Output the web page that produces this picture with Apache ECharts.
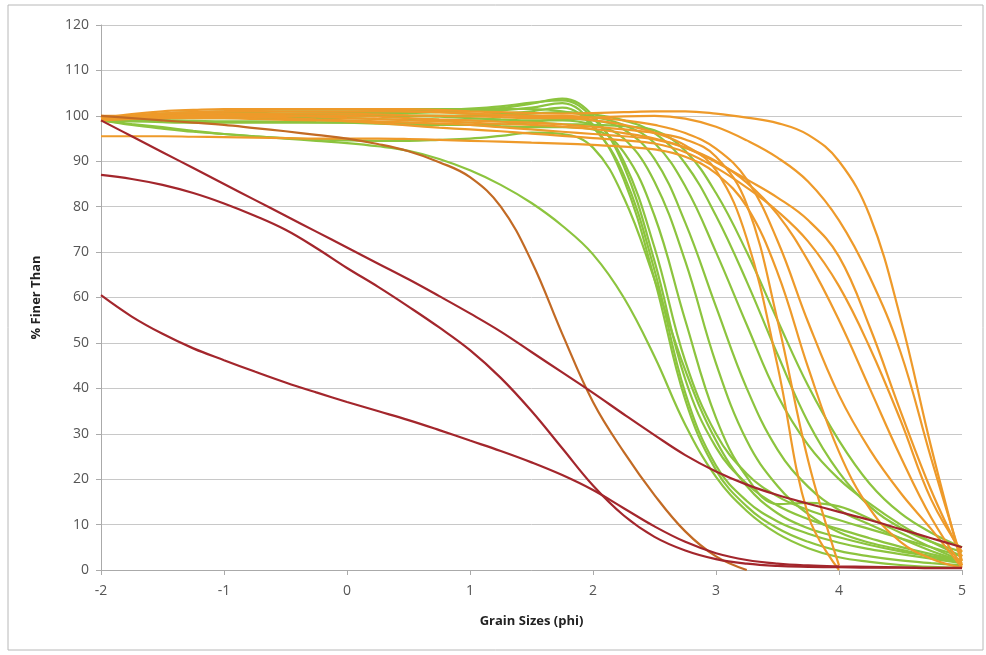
<!DOCTYPE html>
<html>
<head>
<meta charset="utf-8">
<script src="https://cdn.jsdelivr.net/npm/echarts@6/dist/echarts.min.js"></script>
<style>html,body{margin:0;padding:0;background:#fff;}#c{width:986px;height:655px;}</style>
</head>
<body>
<div id="c"></div>
<script>
// x positions (phi), every 0.25
const phi = [-2, -1.75, -1.5, -1.25, -1, -0.75, -0.5, -0.25, 0, 0.25, 0.5, 0.75, 1, 1.25, 1.5, 1.75, 2, 2.25, 2.5, 2.75, 3, 3.25, 3.5, 3.75, 4, 4.25, 4.5, 4.75, 5];

// dark red samples
const red1 = [99, 95.5, 92, 88.5, 85, 81.5, 78, 74.5, 71, 67.5, 64, 60.3, 56.5, 52.5, 48, 43.5, 39, 34.3, 29.7, 25.3, 21.7, 18.8, 16.5, 14.6, 12.8, 11, 9, 7, 5];
const red2 = [87, 86.1, 84.8, 83, 80.7, 78, 74.9, 70.9, 66.5, 62.4, 58, 53.4, 48.4, 42.3, 35, 26.8, 18.6, 12, 7.3, 4.3, 2.4, 1.4, 0.9, 0.7, 0.6, 0.5, 0.5, 0.4, 0.4];
const red3 = [60.5, 55.8, 52, 48.8, 46.2, 43.7, 41.3, 39.1, 37, 35, 33, 30.8, 28.5, 26.2, 23.7, 20.9, 17.6, 13.6, 9.6, 6.2, 3.7, 2.2, 1.4, 1, 0.8, 0.7, 0.6, 0.5, 0.5];
// brown-orange sample
const brown1 = [100, 99.5, 99, 98.5, 98, 97.3, 96.6, 95.8, 95, 93.8, 92.2, 89.8, 86.5, 80, 68, 52, 37, 26, 16.5, 8.5, 3, 0, null, null, null, null, null, null, null];

// green samples
const green1  = [99, 98.2, 97.5, 96.7, 96, 95.5, 95, 94.5, 94, 93.3, 92.3, 90.5, 88, 84.8, 80.8, 75.8, 69.5, 60, 47, 32, 20.5, 13, 8, 4.8, 2.8, 1.8, 1.1, 0.7, 0.5];
const green2  = [99, 98, 97.2, 96.5, 96, 95.5, 95.1, 94.8, 94.6, 94.5, 94.5, 94.7, 95, 95.6, 96.3, 96, 93, 82, 64, 44, 28.5, 18.5, 12.5, 9.2, 7.2, 5.5, 4.1, 3, 2];
const green3  = [99.5, 99.8, 100, 100.1, 100.2, 100.3, 100.4, 100.5, 100.5, 100.5, 100.6, 100.8, 101, 101.2, 101.8, 102.8, 98, 86, 64, 37.5, 22, 14, 9.2, 6.2, 4.2, 3, 2.1, 1.5, 1];
const green4  = [99.5, 99.8, 100.1, 100.4, 100.6, 100.8, 101, 101, 101, 101, 101, 101, 101.2, 101.7, 102.7, 103.8, 100, 89, 68, 42, 27, 19, 14.2, 11.2, 9, 7, 5.1, 3.5, 2];
const green5  = [99.5, 99.8, 100, 100, 100.1, 100.3, 100.5, 100.5, 100.6, 100.8, 101, 101.3, 101.6, 102.1, 102.9, 103.4, 99.5, 90, 71, 46, 30, 21.2, 16.2, 13.2, 11, 9, 7, 5, 3];
const green6  = [99.5, 99.5, 99.5, 99.6, 99.7, 99.8, 100, 100, 100, 100, 100, 100, 100.1, 100.5, 101, 101.8, 97.5, 87, 66, 39, 23, 15.2, 10.7, 8, 6, 4.6, 3.5, 2.5, 1.5];
const green7  = [99, 98.8, 98.6, 98.5, 98.5, 98.5, 98.5, 98.5, 98.5, 98.5, 98.5, 98.2, 98, 97.7, 97.5, 97.5, 97, 92, 78, 55, 33.5, 20.5, 14.5, 14.8, 14, 11.3, 8.2, 5, 2];
const green8  = [99.5, 99.8, 100, 100, 100, 100, 100, 100, 100, 100, 100, 99.8, 99.5, 99.2, 99, 99, 98, 95, 85.5, 68, 45.5, 28.5, 18.5, 12.3, 8.3, 6, 4.5, 3, 1.5];
const green9  = [99, 99, 99, 98.9, 98.8, 98.8, 98.7, 98.6, 98.5, 98.3, 98.1, 98, 98, 98.1, 98.6, 99.3, 99, 97, 90.5, 76.5, 58, 40, 26.5, 18.3, 13.2, 10, 7, 4.2, 2];
const green10 = [99.5, 100, 100.5, 100.8, 101, 101.3, 101.5, 101.5, 101.5, 101.5, 101.5, 101.5, 101.5, 101.5, 101.5, 101, 99.8, 98, 94, 84.5, 70, 54, 38.5, 27.5, 20, 14.6, 10, 6.2, 3];
const green11 = [99.5, 99.8, 100, 100, 100, 100, 100, 100, 100, 100, 100, 100, 100, 100.2, 100.5, 100.8, 100.3, 99, 96.2, 89.5, 78, 63.5, 47.5, 32.5, 21.5, 14, 9.3, 6.2, 4];
const green12 = [99, 99.3, 99.5, 99.5, 99.5, 99.5, 99.5, 99.5, 99.5, 99.3, 99.1, 99, 99, 98.8, 98.5, 98.2, 98, 97.7, 96.8, 92.3, 83, 70, 55, 40.5, 28.5, 19, 12.5, 8.2, 5];

// orange samples
const orange1 = [99.5, 100, 100.5, 100.8, 101, 101, 101, 101, 101, 101, 101, 100.8, 100.5, 100.2, 100, 99.6, 99, 98, 96.3, 93.5, 88, 73, 45, 12, 0, null, null, null, null];
const orange2 = [99.5, 99.8, 100, 100.3, 100.5, 100.3, 100.1, 100, 100, 99.8, 99.5, 99.2, 99, 98.7, 98.5, 98.1, 97.6, 97, 96.2, 94.8, 91, 80.5, 55, 24, 1, null, null, null, null];
const orange3 = [95.5, 95.5, 95.5, 95.4, 95.3, 95.2, 95.1, 95, 95, 95, 94.9, 94.7, 94.5, 94.3, 94.1, 93.9, 93.6, 93.2, 92.6, 91, 87.3, 80, 65.5, 44.5, 26, 13.5, 6.2, 2.5, 0.5];
const orange4 = [99.5, 100, 100.5, 100.8, 101, 101.3, 101.5, 101.5, 101.5, 101.3, 101, 100.8, 100.5, 100.2, 100, 100, 99.6, 99, 98, 96.2, 92.8, 86, 72.5, 54.5, 38.5, 26.5, 17, 9, 0.5];
const orange5 = [100, 100, 100, 100, 99.9, 99.7, 99.5, 99.2, 99, 98.8, 98.5, 98.3, 98, 97.5, 97, 96.5, 96, 95.5, 94.8, 93, 90, 85.3, 78.3, 68, 55, 40, 25, 11.5, 1];
const orange6 = [99.5, 100.4, 101, 101.3, 101.5, 101.5, 101.5, 101.5, 101.5, 101.5, 101.5, 101.3, 101, 100.8, 100.6, 100.5, 100.6, 100.8, 101, 101, 100.5, 99.6, 98.4, 95.8, 90, 78, 55.5, 27, 1];
const orange7 = [99.5, 99.8, 100, 100.3, 100.5, 100.5, 100.5, 100.5, 100.5, 100.3, 100.1, 100, 99.9, 99.7, 99.5, 99.5, 99.6, 99.9, 100, 99.4, 97.6, 94.6, 90.8, 85.5, 77, 64.5, 48, 24.5, 2];
const orange8 = [99, 99.3, 99.6, 99.8, 100, 100, 100, 99.8, 99.5, 99.3, 99, 98.8, 98.5, 98.2, 98, 97.6, 97.1, 96.2, 95, 93, 89.8, 86, 82, 77, 69, 53.5, 35, 17.5, 3];
const orange9 = [99.5, 99.5, 99.5, 99.5, 99.5, 99.3, 99.1, 99, 98.8, 98.4, 97.9, 97.4, 97, 96.6, 96.1, 95.6, 95.1, 94.6, 93.9, 92, 88.6, 84.2, 79, 72.3, 62.5, 49, 33, 15.5, 4];

const xTicks = [-2, -1, 0, 1, 2, 3, 4, 5];
const xTitle = 'Grain Sizes (phi)';
const yTitle = '% Finer Than';

const groups = [
  { color: '#8cc43e', list: [green1, green2, green3, green4, green5, green6, green7, green8, green9, green10, green11, green12] },
  { color: '#ee9a2a', list: [orange1, orange2, orange3, orange4, orange5, orange6, orange7, orange8, orange9] },
  { color: '#c26a24', list: [brown1] },
  { color: '#a3262c', list: [red1, red2, red3] }
];

const series = [];
groups.forEach(g => {
  g.list.forEach(arr => {
    series.push({
      type: 'line',
      smooth: 0.4,
      showSymbol: false,
      symbol: 'none',
      connectNulls: false,
      lineStyle: { color: g.color, width: 2.2 },
      data: phi.map((x, i) => [x, arr[i]])
    });
  });
});

const chart = echarts.init(document.getElementById('c'), null, { renderer: 'canvas' });
chart.setOption({
  animation: false,
  backgroundColor: '#ffffff',
  grid: { left: 101, right: 24, top: 25, bottom: 85, containLabel: false },
  graphic: [{
    type: 'rect', shape: { x: 8, y: 5, width: 975, height: 645 },
    style: { fill: 'none', stroke: '#b8b8b8', lineWidth: 1 }, silent: true, z: -1
  }],
  xAxis: {
    type: 'value', min: -2, max: 5, interval: 1,
    name: xTitle, nameLocation: 'middle', nameGap: 45,
    nameTextStyle: { fontFamily: 'Open Sans', fontWeight: 'bold', fontSize: 13, color: '#222' },
    axisLine: { show: true, onZero: false, lineStyle: { color: '#aaaaaa' } },
    axisTick: { show: true, length: 5, lineStyle: { color: '#aaaaaa' } },
    axisLabel: { fontFamily: 'Open Sans', fontSize: 14, color: '#555', margin: 14,
      formatter: v => xTicks.includes(v) ? String(v) : '' },
    splitLine: { show: false }
  },
  yAxis: {
    type: 'value', min: 0, max: 120, interval: 10,
    name: yTitle, nameLocation: 'middle', nameGap: 58, nameRotate: 90,
    nameTextStyle: { fontFamily: 'Open Sans', fontWeight: 'bold', fontSize: 13, color: '#222' },
    axisLine: { show: true, onZero: false, lineStyle: { color: '#aaaaaa' } },
    axisTick: { show: true, length: 5, lineStyle: { color: '#aaaaaa' } },
    axisLabel: { fontFamily: 'Open Sans', fontSize: 14, color: '#555', margin: 12 },
    splitLine: { show: true, lineStyle: { color: '#c8c8c8', width: 1 } }
  },
  series: series
});
</script>
</body>
</html>
